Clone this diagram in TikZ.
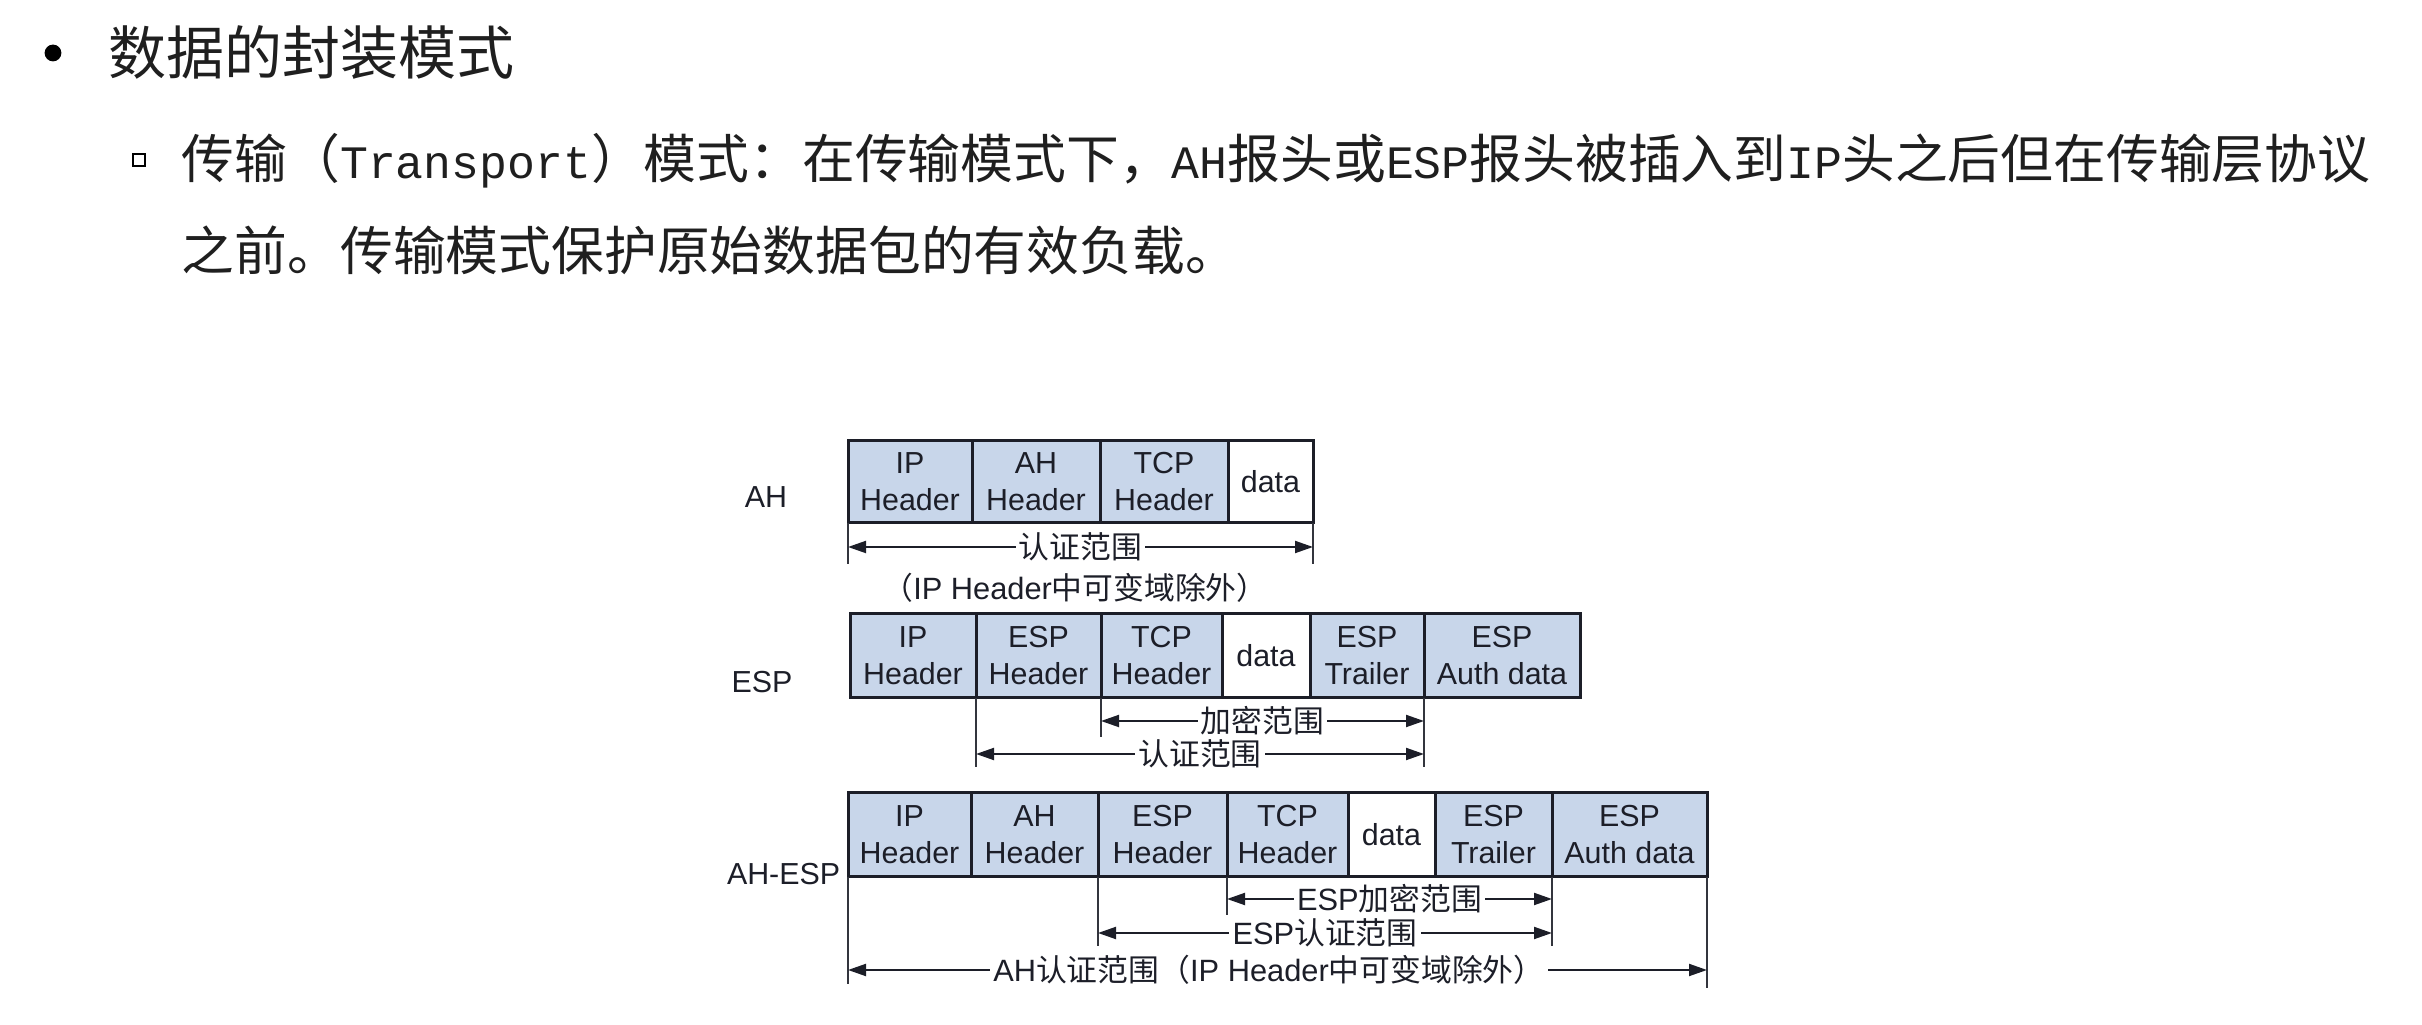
\documentclass[tikz,border=0pt]{standalone}
\usepackage{fontspec}
\setmainfont{Liberation Sans}
\newfontfamily\cjk{Noto Sans CJK SC}
\newfontfamily\latinmono[Scale=0.88]{Liberation Mono}
\usetikzlibrary{fit,arrows.meta}
\definecolor{cellfill}{RGB}{200,214,234}
\definecolor{ink}{RGB}{28,30,40}
\newcommand\zh[1]{{\cjk #1}}
\newcommand\lm[1]{{\latinmono #1}}
% cell: name, style, corner1, corner2, text
\newcommand\pkcell[5]{%
  \node[#2, fit={(#3)(#4)}] (#1) {};
  \node[ctext] (#1t) at (#1.center) {#5};}
\begin{document}
\begin{tikzpicture}[x=0.25pt,y=-0.25pt,
  cell/.style={draw=ink, line width=0.75pt, fill=cellfill, inner sep=0pt, outer sep=0pt},
  datacell/.style={cell, fill=white},
  ctext/.style={align=center, font=\fontsize{7.6}{9.25}\selectfont, text=ink, inner sep=0pt},
  ext/.style={draw=ink!90, line width=0.5pt},
  dim/.style={draw=ink, line width=0.5pt,
    {Triangle[length=4.5pt,width=3pt]}-{Triangle[length=4.5pt,width=3pt]}},
  dimlbl/.style={fill=white, inner sep=0.8pt, font=\fontsize{7.7}{9}\selectfont, text=ink},
  rowlbl/.style={font=\fontsize{7.6}{9}\selectfont, text=ink, inner sep=0pt},
  head/.style={anchor=west, inner sep=0pt, text=black!88},
]
\useasboundingbox (0,0) rectangle (2422,1025);

% ---------- heading text ----------
\node[circle, fill=black, inner sep=0pt, minimum size=4.2pt] (b1) at (53,53) {};
\node[head, font=\cjk\fontsize{14.5}{16}\selectfont] (t1) at (108,53) {数据的封装模式};
\node[draw=black, line width=0.6pt, inner sep=0pt, minimum size=3.1pt] (b2) at (139,160) {};
\node[head, font=\cjk\fontsize{13.2}{15}\selectfont] (t2) at (181,161)
  {传输（\lm{Transport}）模式：在传输模式下，\lm{AH}报头或\lm{ESP}报头被插入到\lm{IP}头之后但在传输层协议};
\node[head, font=\cjk\fontsize{13.2}{15}\selectfont] (t3) at (181,250)
  {之前。传输模式保护原始数据包的有效负载。};

% ---------- AH row ----------
\node[rowlbl] (lAH) at (766,497) {AH};
\pkcell{a1}{cell}{848,441}{972,523}{IP\\Header}
\pkcell{a2}{cell}{972,441}{1100,523}{AH\\Header}
\pkcell{a3}{cell}{1100,441}{1228,523}{TCP\\Header}
\pkcell{a4}{datacell}{1228,441}{1313,523}{data}

\coordinate (aLe) at (848,564);
\coordinate (aRe) at (1313,564);
\coordinate (aL) at (848,547);
\coordinate (aR) at (1313,547);
\draw[ext] (a1.south west) -- (aLe);
\draw[ext] (a4.south east) -- (aRe);
\draw[dim] (aL) -- node[dimlbl] (aT) {\zh{认证范围}} (aR);
\node[rowlbl, font=\fontsize{7.7}{9}\selectfont] (aT2) at (1075,588) {\zh{（}IP Header\zh{中可变域除外）}};

% ---------- ESP row ----------
\node[rowlbl] (lESP) at (762,682) {ESP};
\pkcell{e1}{cell}{850,614}{976,698}{IP\\Header}
\pkcell{e2}{cell}{976,614}{1101,698}{ESP\\Header}
\pkcell{e3}{cell}{1101,614}{1222,698}{TCP\\Header}
\pkcell{e4}{datacell}{1222,614}{1310,698}{data}
\pkcell{e5}{cell}{1310,614}{1424,698}{ESP\\Trailer}
\pkcell{e6}{cell}{1424,614}{1580,698}{ESP\\Auth data}

\coordinate (eAe) at (976,767);
\coordinate (eBe) at (1101,737);
\coordinate (eCe) at (1424,767);
\draw[ext] (e2.south west) -- (eAe);
\draw[ext] (e3.south west) -- (eBe);
\draw[ext] (e6.south west) -- (eCe);
\coordinate (eEncL) at (1101,721);
\coordinate (eEncR) at (1424,721);
\coordinate (eAutL) at (976,754);
\coordinate (eAutR) at (1424,754);
\draw[dim] (eEncL) -- node[dimlbl] (eT1) {\zh{加密范围}} (eEncR);
\draw[dim] (eAutL) -- node[dimlbl] (eT2) {\zh{认证范围}} (eAutR);

% ---------- AH-ESP row ----------
\node[rowlbl, anchor=east] (lAHESP) at (841,874) {AH-ESP};
\pkcell{c1}{cell}{848,793}{971,877}{IP\\Header}
\pkcell{c2}{cell}{971,793}{1098,877}{AH\\Header}
\pkcell{c3}{cell}{1098,793}{1227,877}{ESP\\Header}
\pkcell{c4}{cell}{1227,793}{1348,877}{TCP\\Header}
\pkcell{c5}{datacell}{1348,793}{1435,877}{data}
\pkcell{c6}{cell}{1435,793}{1552,877}{ESP\\Trailer}
\pkcell{c7}{cell}{1552,793}{1707,877}{ESP\\Auth data}

\coordinate (cLe) at (848,984);
\coordinate (cBe) at (1098,946);
\coordinate (cCe) at (1227,915);
\coordinate (cDe) at (1552,946);
\coordinate (cRe) at (1707,988);
\draw[ext] (c1.south west) -- (cLe);
\draw[ext] (c3.south west) -- (cBe);
\draw[ext] (c4.south west) -- (cCe);
\draw[ext] (c7.south west) -- (cDe);
\draw[ext] (c7.south east) -- (cRe);
\coordinate (cEncL) at (1227,899);
\coordinate (cEncR) at (1552,899);
\coordinate (cAutL) at (1098,933);
\coordinate (cAutR) at (1552,933);
\coordinate (cAhL) at (848,970);
\coordinate (cAhR) at (1707,970);
\draw[dim] (cEncL) -- node[dimlbl] (cT1) {ESP\zh{加密范围}} (cEncR);
\draw[dim] (cAutL) -- node[dimlbl] (cT2) {ESP\zh{认证范围}} (cAutR);
\draw[dim] (cAhL) -- node[dimlbl, pos=0.49] (cT3) {AH\zh{认证范围（}IP Header\zh{中可变域除外）}} (cAhR);
\end{tikzpicture}
\end{document}
